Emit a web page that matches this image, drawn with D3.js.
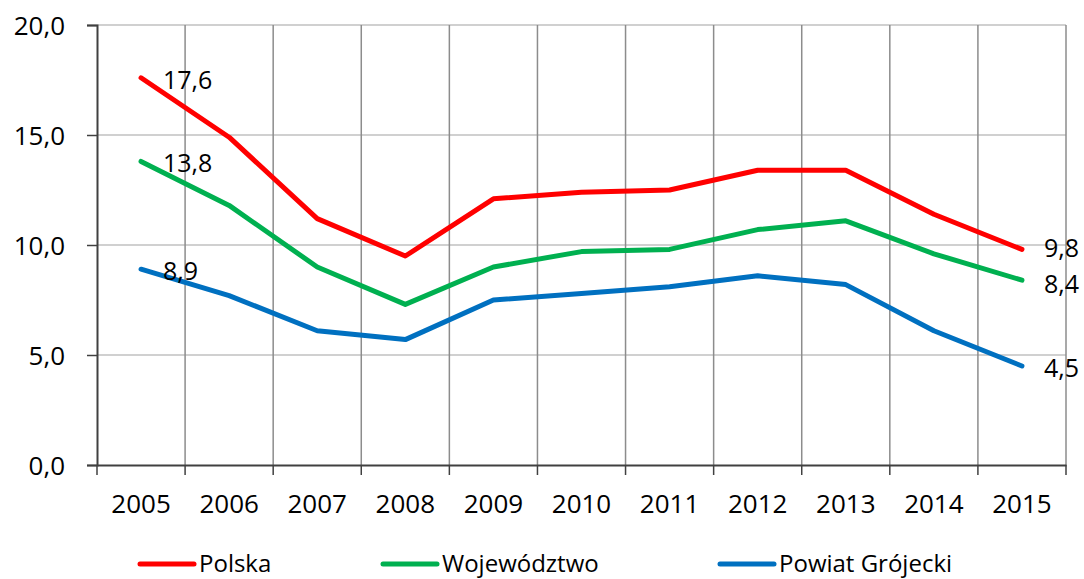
<!DOCTYPE html>
<html lang="pl">
<head>
<meta charset="utf-8">
<title>Chart</title>
<script src="https://cdn.jsdelivr.net/npm/d3@7"></script>
<style>
  body { margin: 0; background: #fff; }
  svg text { font-family: "Open Sans", "Noto Sans", sans-serif; fill: #000; }
</style>
</head>
<body>
<svg id="chart" width="1084" height="579"></svg>
<script>
// --- data
var years = ["2005", "2006", "2007", "2008", "2009", "2010", "2011", "2012", "2013", "2014", "2015"];
var polska = [17.6, 14.9, 11.2, 9.5, 12.1, 12.4, 12.5, 13.4, 13.4, 11.4, 9.8];
var wojewodztwo = [13.8, 11.8, 9.0, 7.3, 9.0, 9.7, 9.8, 10.7, 11.1, 9.6, 8.4];
var powiat = [8.9, 7.7, 6.1, 5.7, 7.5, 7.8, 8.1, 8.6, 8.2, 6.1, 4.5];
var seriesNames = ["Polska", "Województwo", "Powiat Grójecki"];
var yTicks = [0, 5, 10, 15, 20];

var series = [
  { name: seriesNames[0], values: polska, color: "#ff0000", endShift: -1 },
  { name: seriesNames[1], values: wojewodztwo, color: "#00b050", endShift: 4 },
  { name: seriesNames[2], values: powiat, color: "#0070c0", endShift: 2 }
];

var svg = d3.select("#chart");
var m = { left: 97, right: 1066, top: 25, bottom: 465 };

var x = d3.scaleBand().domain(years).range([m.left, m.right]);
var y = d3.scaleLinear().domain([0, 20]).range([m.bottom, m.top]);
var fmt = function(v) { return d3.format(".1f")(v).replace(".", ","); };

// horizontal grid
svg.append("g").selectAll("line").data(yTicks.slice(1)).enter().append("line")
    .attr("x1", m.left).attr("x2", m.right)
    .attr("y1", function(d) { return y(d); }).attr("y2", function(d) { return y(d); })
    .attr("stroke", "#c0c0c0").attr("stroke-width", 1.5);

// vertical grid at category boundaries
svg.append("g").selectAll("line").data(years.slice(1)).enter().append("line")
    .attr("x1", function(d) { return x(d); }).attr("x2", function(d) { return x(d); })
    .attr("y1", m.top).attr("y2", m.bottom)
    .attr("stroke", "#8c8c8c").attr("stroke-width", 1.5);
svg.append("line")
    .attr("x1", m.right).attr("x2", m.right).attr("y1", m.top).attr("y2", m.bottom)
    .attr("stroke", "#8c8c8c").attr("stroke-width", 1.5);

// y axis
var yAxis = svg.append("g").attr("transform", "translate(" + m.left + ",0)")
    .call(d3.axisLeft(y).tickValues(yTicks).tickFormat(fmt).tickSize(10).tickPadding(22));
yAxis.select(".domain").attr("stroke", "#404040").attr("stroke-width", 2);
yAxis.selectAll(".tick line").attr("stroke", "#404040").attr("stroke-width", 1.5);
yAxis.selectAll("text").style("font-size", "26px").attr("dy", "0.35em");

// x axis
var xAxis = svg.append("g").attr("transform", "translate(0," + m.bottom + ")")
    .call(d3.axisBottom(x).tickSize(0).tickPadding(30));
xAxis.select(".domain").attr("stroke", "#404040").attr("stroke-width", 2);
xAxis.selectAll("text").style("font-size", "26px");
svg.append("g").selectAll("line").data(years.concat(["end"])).enter().append("line")
    .attr("x1", function(d, i) { return i < years.length ? x(d) : m.right; })
    .attr("x2", function(d, i) { return i < years.length ? x(d) : m.right; })
    .attr("y1", m.bottom).attr("y2", m.bottom + 10)
    .attr("stroke", "#404040").attr("stroke-width", 1.5);

// lines
var cx = function(d, i) { return x(years[i]) + x.bandwidth() / 2; };
var line = d3.line().x(cx).y(function(d) { return y(d); });

series.forEach(function(s) {
  svg.append("path").datum(s.values)
      .attr("d", line)
      .attr("fill", "none")
      .attr("stroke", s.color)
      .attr("stroke-width", 5)
      .attr("stroke-linecap", "round")
      .attr("stroke-linejoin", "round");

  // labels at first and last point
  var last = s.values.length - 1;
  [0, last].forEach(function(i) {
    svg.append("text")
        .attr("x", cx(null, i) + 22)
        .attr("y", y(s.values[i]) + (i === last ? s.endShift : 2))
        .attr("dy", "0.35em")
        .style("font-size", "25px")
        .text(fmt(s.values[i]));
  });
});

// legend
var legendX = [140, 383, 720];
series.forEach(function(s, i) {
  var g = svg.append("g").attr("transform", "translate(" + legendX[i] + ",564)");
  g.append("line").attr("x1", 0).attr("x2", 54)
      .attr("stroke", s.color).attr("stroke-width", 5).attr("stroke-linecap", "round");
  g.append("text").attr("x", 59).attr("dy", "0.35em")
      .style("font-size", "24px").text(s.name);
});
</script>
</body>
</html>
